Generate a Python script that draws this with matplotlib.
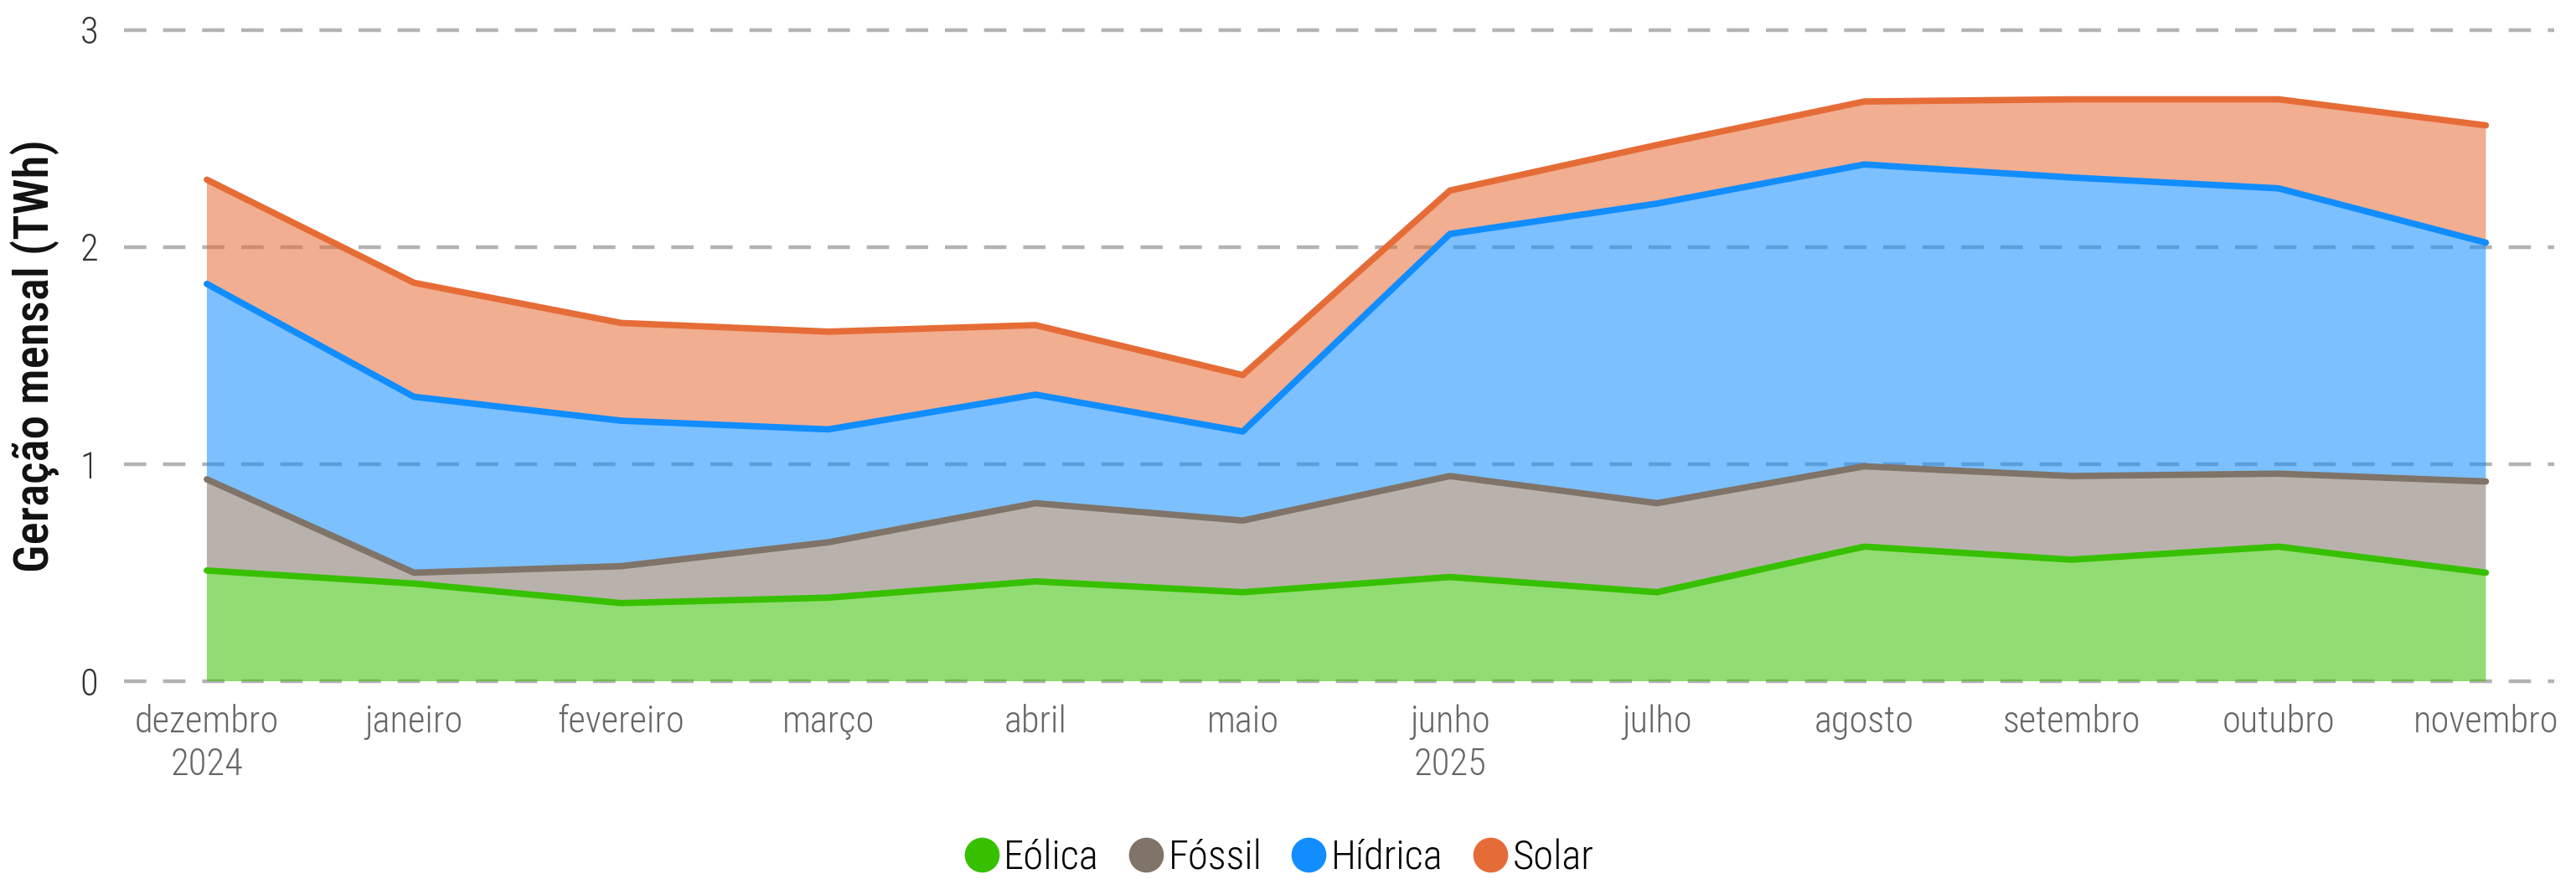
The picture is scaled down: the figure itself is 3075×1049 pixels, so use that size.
import numpy as np
import matplotlib
matplotlib.use('Agg')
import matplotlib.pyplot as plt
from matplotlib import font_manager
from matplotlib.lines import Line2D

## monthly generation (TWh), dez 2024 .. nov 2025
months = ['dezembro\n2024', 'janeiro', 'fevereiro', 'março', 'abril', 'maio',
          'junho\n2025', 'julho', 'agosto', 'setembro', 'outubro', 'novembro']
eolica = [0.51, 0.45, 0.36, 0.385, 0.46, 0.41, 0.48, 0.41, 0.62, 0.56, 0.62, 0.50]
fossil = [0.42, 0.05, 0.17, 0.255, 0.36, 0.33, 0.465, 0.41, 0.37, 0.385, 0.336, 0.42]
hidrica = [0.90, 0.81, 0.67, 0.52, 0.50, 0.41, 1.115, 1.38, 1.39, 1.375, 1.314, 1.10]
solar = [0.48, 0.525, 0.45, 0.45, 0.32, 0.26, 0.20, 0.27, 0.29, 0.36, 0.41, 0.54]

names = ['Eólica', 'Fóssil', 'Hídrica', 'Solar']
line_colors = ['#37C000', '#807368', '#118DFF', '#E66C37']

available = {f.name for f in font_manager.fontManager.ttflist}
font = 'Roboto'
for cand in ['Roboto Condensed', 'Liberation Sans Narrow']:
    if cand in available:
        font = cand
        break
plt.rcParams['font.family'] = [font, 'DejaVu Sans']

fig = plt.figure(figsize=(30.75, 10.49), dpi=100)
ax = fig.add_axes([148 / 3075, 1 - 813 / 1049, (3049 - 148) / 3075, (813 - 35.6) / 1049])

x = np.arange(len(months))
series = [np.array(eolica), np.array(fossil), np.array(hidrica), np.array(solar)]

# grid under the translucent fills
for yv in [0, 1, 2, 3]:
    ax.axhline(yv, color='#B3B3B3', lw=3.2, dashes=(6, 4.5), zorder=0, clip_on=False)

ax.stackplot(x, *series, colors=line_colors, alpha=0.55, lw=0, zorder=1)
cum = np.cumsum(series, axis=0)
for i in range(4):
    ax.plot(x, cum[i], color=line_colors[i], lw=5.5, solid_capstyle='round',
            solid_joinstyle='round', zorder=3)

ax.set_xlim(-0.4, 11.33)
ax.set_ylim(0, 3)
ax.set_yticks([0, 1, 2, 3])
ax.set_xticks(x)
ax.set_xticklabels(months, fontsize=32, color='#666666', linespacing=1.25, fontweight='light')
for lbl in ax.get_yticklabels():
    lbl.set_fontweight('light')
ax.tick_params(axis='y', labelsize=32, labelcolor='#333333', length=0, pad=22)
ax.tick_params(axis='x', length=0, pad=20)
for s in ax.spines.values():
    s.set_visible(False)
ax.set_ylabel('Geração mensal (TWh)', fontsize=41, fontweight='medium', color='#111111', labelpad=18)

handles = [Line2D([], [], marker='o', ls='none', color=c, markersize=29) for c in line_colors]
fig.legend(handles, names, loc='center', bbox_to_anchor=(1526 / 3075, 1 - 1024 / 1049), ncol=4,
           frameon=False, fontsize=35, handletextpad=0.1, columnspacing=0.7, handlelength=0.9,
           prop={'weight': 'light', 'size': 35})

fig.savefig('out.png', dpi=100)
